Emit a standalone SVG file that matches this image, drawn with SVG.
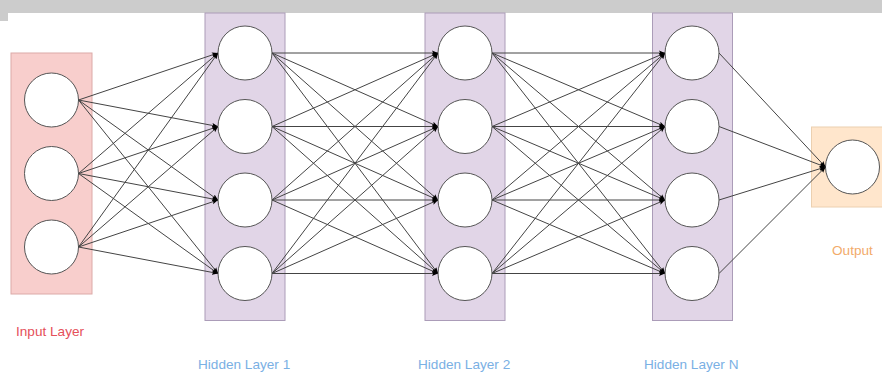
<svg xmlns="http://www.w3.org/2000/svg" width="882" height="372" viewBox="0 0 882 372">
<style>
.node{fill:#ffffff;stroke:#555555;stroke-width:1}
.edge{stroke:#444444;stroke-width:1;fill:none;marker-end:url(#arr)}
.lbl{font-family:"Liberation Sans",Arial,Helvetica,sans-serif;font-size:13.6px}
</style>
<defs>
<marker id="arr" markerUnits="userSpaceOnUse" markerWidth="7" markerHeight="6" refX="6" refY="3" orient="auto">
<path d="M0,0.5 L6,3 L0,5.5 L1.2,3 Z" fill="#000000"/>
</marker>
</defs>
<rect x="0" y="0" width="882" height="13" fill="#cccccc"/>
<rect x="0" y="0" width="8" height="21" fill="#cccccc"/>
<g id="input-layer">
<rect x="11" y="53" width="81" height="241" fill="#f8cecc" stroke="#dcaaa8" stroke-width="1"/>
<circle class="node" cx="51.5" cy="100" r="27"/>
<circle class="node" cx="51.5" cy="173.5" r="27"/>
<circle class="node" cx="51.5" cy="247" r="27"/>
</g>
<g id="hidden-layer-1">
<rect x="205" y="13" width="80" height="307.5" fill="#e1d5e7" stroke="#ab9cb8" stroke-width="1"/>
<circle class="node" cx="245" cy="53" r="27"/>
<circle class="node" cx="245" cy="126.5" r="27"/>
<circle class="node" cx="245" cy="200" r="27"/>
<circle class="node" cx="245" cy="273.5" r="27"/>
</g>
<g id="hidden-layer-2">
<rect x="425" y="13" width="80" height="307.5" fill="#e1d5e7" stroke="#ab9cb8" stroke-width="1"/>
<circle class="node" cx="465" cy="53" r="27"/>
<circle class="node" cx="465" cy="126.5" r="27"/>
<circle class="node" cx="465" cy="200" r="27"/>
<circle class="node" cx="465" cy="273.5" r="27"/>
</g>
<g id="hidden-layer-n">
<rect x="652.5" y="13" width="80" height="307.5" fill="#e1d5e7" stroke="#ab9cb8" stroke-width="1"/>
<circle class="node" cx="692" cy="53" r="27"/>
<circle class="node" cx="692" cy="126.5" r="27"/>
<circle class="node" cx="692" cy="200" r="27"/>
<circle class="node" cx="692" cy="273.5" r="27"/>
</g>
<g id="output-layer">
<rect x="811.5" y="127" width="80" height="80" fill="#ffe6cc" stroke="#ecd0b0" stroke-width="1"/>
<circle class="node" cx="852.5" cy="167" r="27"/>
</g>
<g id="connectors">
<line class="edge" x1="78.5" y1="100" x2="218" y2="53"/>
<line class="edge" x1="78.5" y1="100" x2="218" y2="126.5"/>
<line class="edge" x1="78.5" y1="100" x2="218" y2="200"/>
<line class="edge" x1="78.5" y1="100" x2="218" y2="273.5"/>
<line class="edge" x1="78.5" y1="173.5" x2="218" y2="53"/>
<line class="edge" x1="78.5" y1="173.5" x2="218" y2="126.5"/>
<line class="edge" x1="78.5" y1="173.5" x2="218" y2="200"/>
<line class="edge" x1="78.5" y1="173.5" x2="218" y2="273.5"/>
<line class="edge" x1="78.5" y1="247" x2="218" y2="53"/>
<line class="edge" x1="78.5" y1="247" x2="218" y2="126.5"/>
<line class="edge" x1="78.5" y1="247" x2="218" y2="200"/>
<line class="edge" x1="78.5" y1="247" x2="218" y2="273.5"/>

<line class="edge" x1="272" y1="53" x2="438" y2="53"/>
<line class="edge" x1="272" y1="53" x2="438" y2="126.5"/>
<line class="edge" x1="272" y1="53" x2="438" y2="200"/>
<line class="edge" x1="272" y1="53" x2="438" y2="273.5"/>
<line class="edge" x1="272" y1="126.5" x2="438" y2="53"/>
<line class="edge" x1="272" y1="126.5" x2="438" y2="126.5"/>
<line class="edge" x1="272" y1="126.5" x2="438" y2="200"/>
<line class="edge" x1="272" y1="126.5" x2="438" y2="273.5"/>
<line class="edge" x1="272" y1="200" x2="438" y2="53"/>
<line class="edge" x1="272" y1="200" x2="438" y2="126.5"/>
<line class="edge" x1="272" y1="200" x2="438" y2="200"/>
<line class="edge" x1="272" y1="200" x2="438" y2="273.5"/>
<line class="edge" x1="272" y1="273.5" x2="438" y2="53"/>
<line class="edge" x1="272" y1="273.5" x2="438" y2="126.5"/>
<line class="edge" x1="272" y1="273.5" x2="438" y2="200"/>
<line class="edge" x1="272" y1="273.5" x2="438" y2="273.5"/>

<line class="edge" x1="492" y1="53" x2="665" y2="53"/>
<line class="edge" x1="492" y1="53" x2="665" y2="126.5"/>
<line class="edge" x1="492" y1="53" x2="665" y2="200"/>
<line class="edge" x1="492" y1="53" x2="665" y2="273.5"/>
<line class="edge" x1="492" y1="126.5" x2="665" y2="53"/>
<line class="edge" x1="492" y1="126.5" x2="665" y2="126.5"/>
<line class="edge" x1="492" y1="126.5" x2="665" y2="200"/>
<line class="edge" x1="492" y1="126.5" x2="665" y2="273.5"/>
<line class="edge" x1="492" y1="200" x2="665" y2="53"/>
<line class="edge" x1="492" y1="200" x2="665" y2="126.5"/>
<line class="edge" x1="492" y1="200" x2="665" y2="200"/>
<line class="edge" x1="492" y1="200" x2="665" y2="273.5"/>
<line class="edge" x1="492" y1="273.5" x2="665" y2="53"/>
<line class="edge" x1="492" y1="273.5" x2="665" y2="126.5"/>
<line class="edge" x1="492" y1="273.5" x2="665" y2="200"/>
<line class="edge" x1="492" y1="273.5" x2="665" y2="273.5"/>

<line class="edge" x1="719" y1="53" x2="825.5" y2="167"/>
<line class="edge" x1="719" y1="126.5" x2="825.5" y2="167"/>
<line class="edge" x1="719" y1="200" x2="825.5" y2="167"/>
<line class="edge" x1="719" y1="273.5" x2="825.5" y2="167"/>
</g>
<g id="labels">
<text class="lbl" x="16" y="336" fill="#e5505a">Input Layer</text>
<text class="lbl" x="198" y="368.5" fill="#7ab0e4">Hidden Layer 1</text>
<text class="lbl" x="418" y="368.5" fill="#7ab0e4">Hidden Layer 2</text>
<text class="lbl" x="644" y="368.5" fill="#7ab0e4">Hidden Layer N</text>
<text class="lbl" x="832" y="255" fill="#f2ab6a">Output</text>
</g>
</svg>
